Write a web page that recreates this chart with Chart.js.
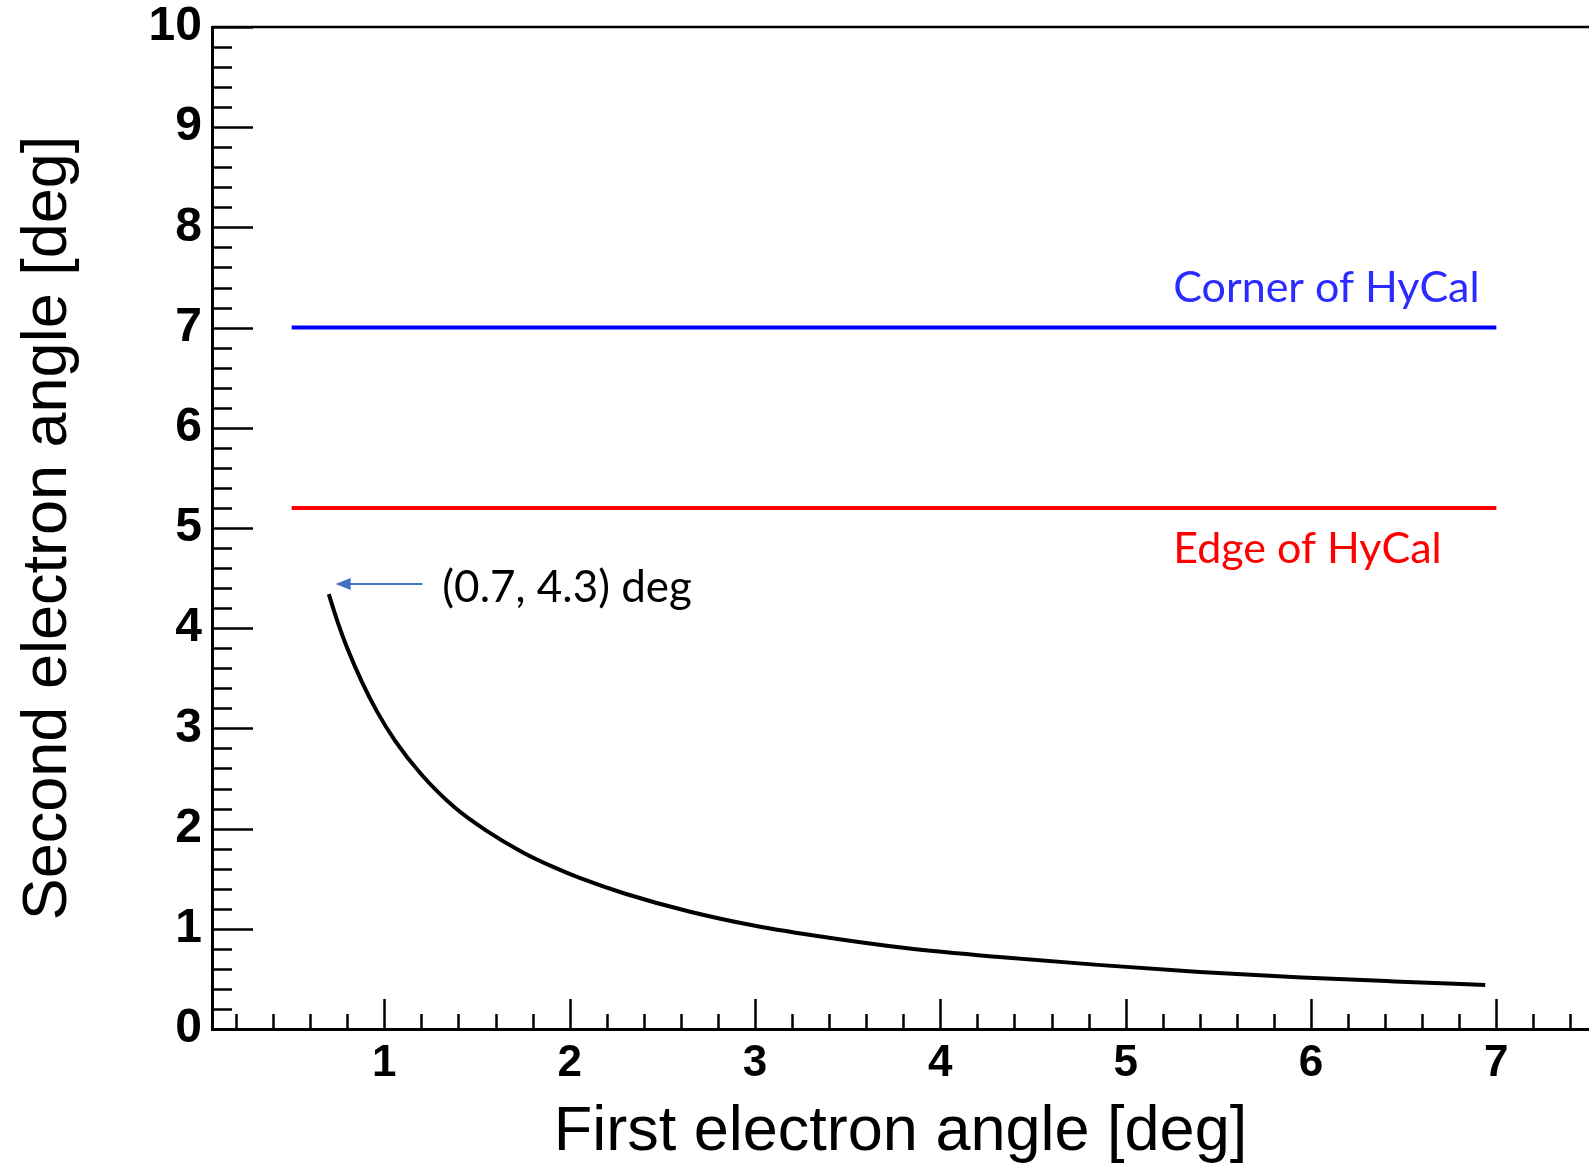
<!DOCTYPE html>
<html>
<head>
<meta charset="utf-8">
<script src="https://cdn.jsdelivr.net/npm/chart.js@4.4.1/dist/chart.umd.min.js"></script>
<style>
  html, body { margin: 0; padding: 0; background: #fff; }
  #wrap { width: 1589px; height: 1164px; }
</style>
</head>
<body>
<div id="wrap"><canvas id="chart"></canvas></div>
<script>
// first vs second electron angle
const curveX = [0.70, 0.75, 0.80, 0.88, 0.96, 1.06, 1.20, 1.38, 1.55, 1.75, 1.92, 2.05, 2.30, 2.65, 3.00, 3.40, 3.80, 4.30, 4.85, 5.40, 5.95, 6.45, 6.94];
const curveY = [4.34, 4.05, 3.80, 3.46, 3.17, 2.87, 2.54, 2.21, 1.98, 1.76, 1.61, 1.51, 1.35, 1.17, 1.03, 0.91, 0.81, 0.72, 0.64, 0.57, 0.515, 0.475, 0.44];

// HyCal limits
const cornerX = [0.5, 7.0];
const cornerY = [7.0, 7.0];
const edgeX = [0.5, 7.0];
const edgeY = [5.2, 5.2];

const xTickLabels = [1, 2, 3, 4, 5, 6, 7];
const yTickLabels = [0, 1, 2, 3, 4, 5, 6, 7, 8, 9, 10];

const toPoints = (xs, ys) => xs.map((v, i) => ({ x: v, y: ys[i] }));

// ROOT style frame: inward ticks + top line + the text notes
const rootFrame = {
    id: 'rootFrame',
    afterDraw(chart) {
        const { ctx, chartArea: a, scales: { x, y } } = chart;
        ctx.save();
        ctx.strokeStyle = '#000';
        ctx.lineWidth = 2.5;
        ctx.beginPath();
        ctx.moveTo(a.left, a.top);
        ctx.lineTo(a.right, a.top);
        for (let i = 1; i * 0.2 <= x.max; i++) {
            const v = i * 0.2;
            if (v < x.min) continue;
            const px = Math.round(x.getPixelForValue(v)) + 0.5;
            const len = i % 5 === 0 ? 30 : 15;
            ctx.moveTo(px, a.bottom);
            ctx.lineTo(px, a.bottom - len);
        }
        for (let i = 1; i <= 50; i++) {
            const py = Math.round(y.getPixelForValue(i * 0.2)) + 0.5;
            const len = i % 5 === 0 ? 41 : 20;
            ctx.moveTo(a.left, py);
            ctx.lineTo(a.left + len, py);
        }
        ctx.stroke();

        // annotations
        ctx.textBaseline = 'alphabetic';
        ctx.textAlign = 'left';
        ctx.font = '43px Lato';
        ctx.fillStyle = '#2b2bff';
        ctx.fillText('Corner of HyCal', x.getPixelForValue(5.257), y.getPixelForValue(7.26));
        ctx.fillStyle = '#ff0000';
        ctx.fillText('Edge of HyCal', x.getPixelForValue(5.257), y.getPixelForValue(4.65));
        ctx.fillStyle = '#000';
        ctx.font = '44px Lato';
        ctx.fillText('(0.7, 4.3) deg', x.getPixelForValue(1.313), y.getPixelForValue(4.26));

        // arrow
        const ay = y.getPixelForValue(4.44);
        const x0 = x.getPixelForValue(1.205);
        const tip = x.getPixelForValue(0.737);
        ctx.strokeStyle = '#4472c4';
        ctx.fillStyle = '#4472c4';
        ctx.lineWidth = 2;
        ctx.beginPath();
        ctx.moveTo(x0, ay);
        ctx.lineTo(tip + 12, ay);
        ctx.stroke();
        ctx.beginPath();
        ctx.moveTo(tip, ay);
        ctx.lineTo(tip + 15, ay - 6);
        ctx.lineTo(tip + 15, ay + 6);
        ctx.closePath();
        ctx.fill();
        ctx.restore();
    }
};

const ctx = document.getElementById('chart').getContext('2d');
new Chart(ctx, {
    type: 'line',
    data: {
        datasets: [
            {
                data: toPoints(curveX, curveY),
                borderColor: '#000',
                borderWidth: 4,
                pointRadius: 0,
                cubicInterpolationMode: 'monotone'
            },
            {
                data: toPoints(cornerX, cornerY),
                borderColor: '#0000ff',
                borderWidth: 4,
                pointRadius: 0
            },
            {
                data: toPoints(edgeX, edgeY),
                borderColor: '#ff0000',
                borderWidth: 4,
                pointRadius: 0
            }
        ]
    },
    options: {
        responsive: true,
        maintainAspectRatio: false,
        devicePixelRatio: 1,
        animation: false,
        layout: { padding: { top: 27, right: 0, left: 0, bottom: 0 } },
        plugins: {
            legend: { display: false },
            tooltip: { enabled: false }
        },
        scales: {
            x: {
                type: 'linear',
                min: 0.07,
                max: 7.5,
                afterBuildTicks: (s) => { s.ticks = xTickLabels.map(v => ({ value: v })); },
                afterFit: (s) => { s.height = 135; s.paddingLeft = 0; s.paddingRight = 0; },
                grid: { display: false, drawTicks: false },
                border: { display: true, color: '#000', width: 3 },
                ticks: {
                    autoSkip: false,
                    maxRotation: 0,
                    padding: 8,
                    color: '#000',
                    font: { family: 'Liberation Sans', size: 44, weight: 'bold' }
                },
                title: {
                    display: true,
                    text: 'First electron angle [deg]',
                    color: '#000',
                    padding: { top: 2, bottom: 0 },
                    font: { family: 'Liberation Sans', size: 63, lineHeight: 1 }
                }
            },
            y: {
                type: 'linear',
                min: 0,
                max: 10,
                afterBuildTicks: (s) => { s.ticks = yTickLabels.map(v => ({ value: v })); },
                afterFit: (s) => { s.width = 212; s.paddingTop = 0; s.paddingBottom = 0; },
                grid: { display: false, drawTicks: false },
                border: { display: true, color: '#000', width: 3 },
                ticks: {
                    autoSkip: false,
                    padding: 10,
                    color: '#000',
                    font: { family: 'Liberation Sans', size: 48, weight: 'bold' }
                },
                title: {
                    display: true,
                    text: 'Second electron angle [deg]',
                    color: '#000',
                    padding: { top: 17, bottom: 0 },
                    font: { family: 'Liberation Sans', size: 63, lineHeight: 1 }
                }
            }
        }
    },
    plugins: [rootFrame]
});
</script>
</body>
</html>
